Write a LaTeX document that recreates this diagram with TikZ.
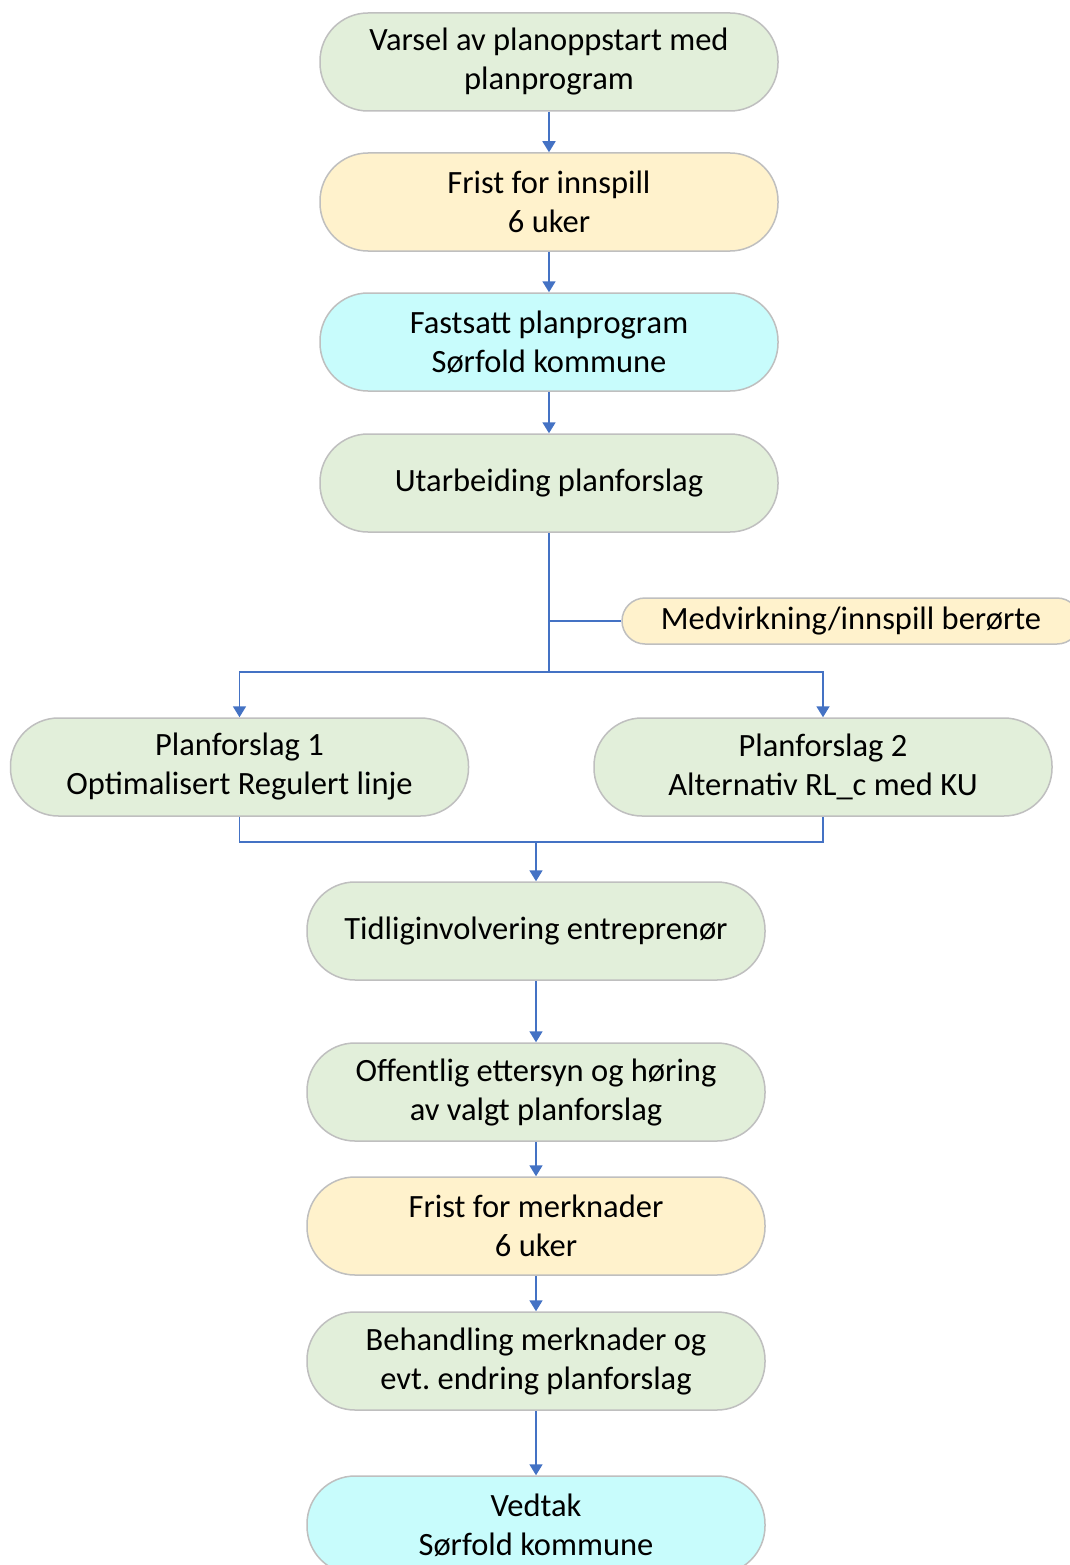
\documentclass[tikz,border=0pt]{standalone}
\usepackage{fontspec}
\setmainfont{Carlito}
\usetikzlibrary{arrows.meta, positioning, calc}
\definecolor{boxgreen}{RGB}{226,239,218}
\definecolor{boxyellow}{RGB}{255,242,204}
\definecolor{boxcyan}{RGB}{200,252,252}
\definecolor{boxline}{RGB}{191,191,191}
\definecolor{flowblue}{RGB}{68,114,196}

\begin{document}
\begin{tikzpicture}[x=1pt, y=-1pt,
                phase/.style={rectangle, rounded corners=48pt, draw=boxline, line width=1.5pt, fill=boxgreen, minimum width=458pt, minimum height=98pt, align=center, font=\fontsize{32.5}{39}\selectfont},
                deadline/.style={phase, fill=boxyellow},
                decision/.style={phase, fill=boxcyan},
                flow/.style={draw=flowblue, line width=1.8pt},
                arrow/.style={flow, -{Triangle[width=13pt, length=11pt]}}
            ]
                \useasboundingbox (0,0) rectangle (1070,1565);
                \fill[white] (0,0) rectangle (1070,1565);

                \node[phase] (varsel) at (549,62) {Varsel av planoppstart med\\planprogram};
                \node[deadline] (frist1) at (549,202) {Frist for innspill\\6 uker};
                \node[decision] (fastsatt) at (549,342) {Fastsatt planprogram\\Sørfold kommune};
                \node[phase] (utarb) at (549,483) {Utarbeiding planforslag};
                \node[deadline, minimum height=46pt, rounded corners=23pt] (medv) at (851,621) {Medvirkning/innspill berørte};

                \node[phase] (plan1) at (239.5,767) {Planforslag 1\\Optimalisert Regulert linje};
                \node[phase] (plan2) at (823,767) {Planforslag 2\\Alternativ RL\_c med KU};

                \node[phase] (tidlig) at (536,931) {Tidliginvolvering entreprenør};
                \node[phase] (offentlig) at (536,1092) {Offentlig ettersyn og høring\\av valgt planforslag};
                \node[deadline] (frist2) at (536,1226) {Frist for merknader\\6 uker};
                \node[phase] (behandling) at (536,1361) {Behandling merknader og\\evt.\ endring planforslag};
                \node[decision] (vedtak) at (536,1525) {Vedtak\\Sørfold kommune};

                \coordinate (split) at (549,672);
                \coordinate (join) at (536,842);

                \draw[arrow] (varsel) -- (frist1);
                \draw[arrow] (frist1) -- (fastsatt);
                \draw[arrow] (fastsatt) -- (utarb);
                \draw[flow] (utarb) -- (split);
                \draw[flow] (medv.west) -- (medv.west -| split);
                \draw[arrow] (split) -| (plan1.north);
                \draw[arrow] (split) -| (plan2.north);

                \draw[flow] (plan1.south) |- (join) -| (plan2.south);
                \draw[arrow] (join) -- (tidlig);
                \draw[arrow] (tidlig) -- (offentlig);
                \draw[arrow] (offentlig) -- (frist2);
                \draw[arrow] (frist2) -- (behandling);
                \draw[arrow] (behandling) -- (vedtak);
            \end{tikzpicture}
\end{document}
